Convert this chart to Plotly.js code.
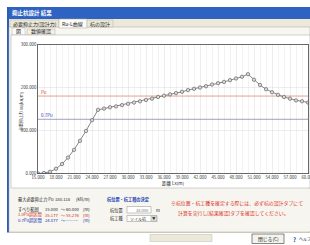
<!DOCTYPE html>
<html><head><meta charset="utf-8">
<script src="https://cdn.plot.ly/plotly-3.0.1.min.js"></script>
<style>html,body{margin:0;padding:0;background:#fff;}#c{width:310px;height:245px;}</style>
</head><body><div id="c"></div>
<script>
// ---- data ----
const distance = [15,16,17,18,19,20,21,22,23,24,25,26,27,28,29,30,31,32,33,34,35,36,37,38,39,40,41,42,43,44,45,46,47,48,49,50,51,52,53,54,55,56,57,58,59,60];
const resistance = [0,1,4,11,22,37,55,76,99,124,148,151,154,156,159,162,165,168,171,174,178,181,184,187,190,194,197,200,203,207,210,213,217,221,225,231,218,206,196,189,183,178,174,170,168,165];
const puValue = 180.118;
const pu07Value = 126.083;
const rangeLabels = ["15.000", "60.000"];
const over10Labels = ["35.177", "55.276"];
const over07Labels = ["24.077", "---------"];
const tabLabels = ["必要抑止力(設計力)", "Ru-L曲線", "杭の設計"];
const subTabLabels = ["図", "数値確認"];

const W = 310, H = 245;
const FONT = "Noto Sans CJK JP";
const shapes = [];
const ann = [];
function rect(x0,y0,x1,y1,fill,line,lw){
  shapes.push({type:'rect',xref:'paper',yref:'paper',x0:x0/W,x1:x1/W,y0:1-y1/H,y1:1-y0/H,
    fillcolor:fill,line:{color:line||fill,width:lw===undefined?0:lw},layer:'below'});
}
function hline(x0,x1,y,color,w){
  shapes.push({type:'line',xref:'paper',yref:'paper',x0:x0/W,x1:x1/W,y0:1-y/H,y1:1-y/H,line:{color:color,width:w||1},layer:'below'});
}
function txt(x,y,t,size,color,anchor,bold){
  ann.push({xref:'paper',yref:'paper',x:x/W,y:1-y/H,text:bold?'<b>'+t+'</b>':t,showarrow:false,
    xanchor:anchor||'left',yanchor:'middle',borderpad:0,
    font:{family:FONT,size:size,color:color||'#222'}});
}

// window chrome
rect(7,7,310,19,'#2f63c2');
txt(11,13,'抑止杭設計 結果',5.5,'#ffffff','left',true);
rect(7,19,310,233,'#ece9d8');
rect(7,7,9,233,'#2a5cb8');
// tabs
rect(9,27,310,232,'#f7f6f1','#a9a79c',0.5);
rect(10,20,59,27,'#ece9d8','#b5b2a4',0.5);
rect(59,19,87,28,'#fbfbf8','#a9a79c',0.5);
rect(87,20,113,27,'#ece9d8','#b5b2a4',0.5);
txt(12,23.5,tabLabels[0],5,'#222');
txt(61,23.5,tabLabels[1],5,'#222');
txt(89,23.5,tabLabels[2],5,'#222');
// sub-tabs
rect(12,28,25,35,'#fbfbf8','#b5b2a4',0.5);
rect(27,29,55,35,'#f1efe6','#b5b2a4',0.5);
txt(15,31.5,subTabLabels[0],5,'#222');
txt(30,31.5,subTabLabels[1],5,'#222');
// chart panel
rect(11,35,310,188,'#ffffff','#a0a0a0',0.5);
// bottom panel
rect(11,189,310,231,'#f6f5f0');
const FS = 4.2;
txt(17,199,'最大必要抑止力 Pu',FS,'#222');
txt(72,199,puValue.toFixed(3),FS,'#222','right');
txt(75,199,'(kN/m)',FS,'#222');
function row(y,label,vals,color){
  txt(17,y,label,FS,color);
  txt(59,y,vals[0],FS,color,'right');
  txt(63,y,'～',FS,color,'center');
  txt(80,y,vals[1],FS,color,'right');
  txt(82,y,'(m)',FS,color);
}
row(209,'すべり範囲',rangeLabels,'#222');
row(214.5,'1.0Pu超区間',over10Labels,'#d03020');
row(220,'0.7Pu超区間',over07Labels,'#2030b0');
txt(106,199,'杭位置・杭工種の決定',FS,'#2040b0','left',true);
txt(109,210,'杭位置',FS,'#222');
rect(127,206.5,151,213,'#ffffff','#8c8c8c',0.5);
txt(150,209.7,'38.000',4,'#777','right');
txt(155,210,'m',FS,'#222');
txt(109,218.5,'杭工種',FS,'#222');
rect(127,215.5,157,221.5,'#ffffff','#8c8c8c',0.5);
rect(151,216,156.5,221,'#e6e6e6','#9a9a9a',0.5);
txt(128.5,218.5,'ソイル杭',4,'#222');
txt(153.7,218.5,'▼',3.5,'#222','center');
txt(170,203,'※杭位置・杭工種を確定する際には、必ず杭の設計タブにて',4.9,'#e03020');
txt(177,212.5,'計算を実行し[結果確認]タブを確認してください。',4.9,'#e03020');
// status bar
hline(7,310,232.5,'#c8c5b8',0.8);
rect(150,234.5,212,241.5,'#ece9d8','#bdbab0',0.5);
rect(252,234,284,243.5,'#f4f3ee','#555',0.7);
txt(268,238.8,'閉じる(C)',4.8,'#222','center');
txt(294,239,'?',6,'#2050c0','center',true);
txt(297.5,239,'ヘルプ',4,'#222');

// chart labels
ann.push({xref:'x',yref:'y',x:15.3,y:puValue,text:'Pu',showarrow:false,xanchor:'left',yanchor:'bottom',borderpad:0,font:{family:FONT,size:4.5,color:'#d04020'}});
ann.push({xref:'x',yref:'y',x:15.3,y:pu07Value,text:'0.7Pu',showarrow:false,xanchor:'left',yanchor:'bottom',borderpad:0,font:{family:FONT,size:4.5,color:'#3040b0'}});
ann.push({xref:'paper',yref:'paper',x:21/W,y:1-112/H,text:'必要抑止力 Ru(kN/m)',textangle:-90,showarrow:false,xanchor:'center',yanchor:'middle',font:{family:FONT,size:4,color:'#222'}});
txt(173,183.5,'距離 Lx(m)',4.5,'#222','center');

const traces = [
  {x:[distance[0],distance[distance.length-1]],y:[puValue,puValue],mode:'lines',line:{color:'#e08a70',width:0.8},hoverinfo:'skip'},
  {x:[distance[0],distance[distance.length-1]],y:[pu07Value,pu07Value],mode:'lines',line:{color:'#8a86b0',width:0.8},hoverinfo:'skip'},
  {x:distance,y:resistance,mode:'lines+markers',line:{color:'#666',width:0.8},
   marker:{symbol:'circle',size:3.4,color:'#d8d8d8',line:{width:0.7,color:'#666'}},hoverinfo:'skip'}
];

const layout = {
  width:W,height:H,margin:{l:0,r:0,t:0,b:0},
  paper_bgcolor:'#ffffff',plot_bgcolor:'rgba(0,0,0,0)',showlegend:false,
  font:{family:FONT},
  xaxis:{domain:[38/W,308/W],range:[15,60],tick0:15,dtick:3,tickformat:'.3f',
    tickfont:{size:4.3,color:'#333'},showline:true,linecolor:'#444',linewidth:0.8,mirror:true,
    showgrid:true,gridcolor:'#dcdcdc',gridwidth:0.5,zeroline:false,ticks:'',ticklabeloverflow:'allow',
    minor:{dtick:1,showgrid:true,gridcolor:'#e8e8e8',gridwidth:0.5}},
  yaxis:{domain:[1-173.5/H,1-44.5/H],range:[0,300],dtick:100,tickformat:'.3f',
    tickfont:{size:4.3,color:'#333'},showline:true,linecolor:'#444',linewidth:0.8,mirror:true,
    showgrid:true,gridcolor:'#dcdcdc',gridwidth:0.5,zeroline:false,ticks:''},
  shapes:shapes,annotations:ann
};
Plotly.newPlot('c',traces,layout,{staticPlot:true,displayModeBar:false});
</script></body></html>
